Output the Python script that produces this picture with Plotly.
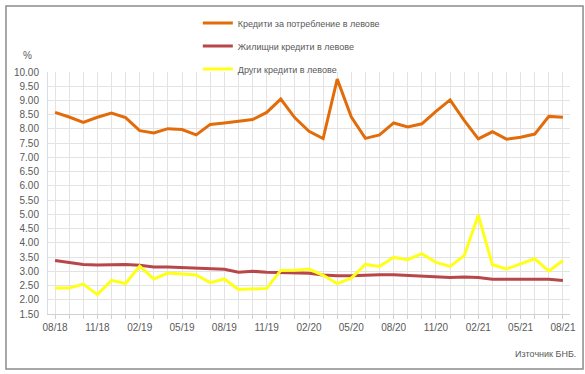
import plotly.graph_objects as go

months = ["08/18","09/18","10/18","11/18","12/18","01/19","02/19","03/19","04/19","05/19","06/19","07/19",
          "08/19","09/19","10/19","11/19","12/19","01/20","02/20","03/20","04/20","05/20","06/20","07/20",
          "08/20","09/20","10/20","11/20","12/20","01/21","02/21","03/21","04/21","05/21","06/21","07/21","08/21"]

consumer = [8.58,8.42,8.23,8.41,8.56,8.40,7.94,7.86,8.01,7.98,7.79,8.16,
            8.21,8.28,8.33,8.58,9.05,8.39,7.92,7.66,9.75,8.42,7.67,7.79,
            8.21,8.07,8.18,8.62,9.02,8.30,7.65,7.90,7.64,7.71,7.82,8.44,8.41]

housing = [3.38,3.31,3.24,3.22,3.22,3.24,3.21,3.15,3.15,3.13,3.10,3.07,
           3.07,2.97,3.00,2.97,2.96,2.94,2.93,2.87,2.84,2.84,2.87,2.88,
           2.88,2.85,2.84,2.80,2.78,2.80,2.78,2.72,2.72,2.72,2.72,2.72,2.68]

other = [2.41,2.41,2.55,2.18,2.68,2.57,3.18,2.73,2.94,2.90,2.87,2.60,
         2.73,2.36,2.38,2.40,3.03,3.04,3.08,2.86,2.57,2.76,3.24,3.17,
         3.49,3.41,3.62,3.31,3.17,3.55,4.97,3.23,3.08,3.27,3.44,3.01,3.38]

tick_labels = [m if i % 3 == 0 else "" for i, m in enumerate(months)]

names = ["Кредити за потребление в левове", "Жилищни кредити в левове", "Други кредити в левове"]
colors = ["#E36C0A", "#B8474A", "#FFFF1A"]

FONT = "Liberation Sans"
GRAY = "#595959"

fig = go.Figure()
for i, (nm, ys, c) in enumerate(zip(names, [consumer, housing, other], colors)):
    fig.add_trace(go.Scatter(x=months, y=ys, mode="lines", name=nm,
                             line=dict(color=c, width=3), legendgroup=str(i)))

fig.update_layout(
    width=585, height=374,
    margin=dict(l=48, r=15, t=72, b=60, autoexpand=False),
    paper_bgcolor="white", plot_bgcolor="white",
    font=dict(family=FONT, size=10, color=GRAY),
    showlegend=True,
    legend=dict(x=0.287, y=1.262, xanchor="left", yanchor="top",
                font=dict(family=FONT, size=9, color=GRAY),
                tracegroupgap=4, bgcolor="rgba(0,0,0,0)"),
    xaxis=dict(type="category", range=[-0.5, 36.5], tickmode="array",
               tickvals=months, ticktext=tick_labels, tickangle=0,
               showgrid=True, gridcolor="#e3e3e3", gridwidth=1,
               showline=True, linecolor="#d0d0d0", ticks="outside", ticklen=4,
               tickcolor="#d0d0d0", tickfont=dict(size=10, color=GRAY)),
    yaxis=dict(range=[1.5, 10], dtick=0.5, tickformat=".2f",
               showgrid=True, gridcolor="#e3e3e3", gridwidth=1,
               showline=True, linecolor="#d5dfec", zeroline=False,
               ticklabelstandoff=6,
               tickfont=dict(size=10, color=GRAY)),
    annotations=[
        dict(text="%", xref="paper", yref="paper", x=-0.04, y=1.07, showarrow=False,
             xanchor="center", yanchor="middle", font=dict(size=10, color=GRAY)),
        dict(text="Източник БНБ.", xref="paper", yref="paper", x=1.015, y=-0.165,
             showarrow=False, xanchor="right", yanchor="middle", font=dict(size=9, color=GRAY)),
    ],
    shapes=[dict(type="rect", xref="paper", yref="paper", x0=-0.0805, x1=1.025, y0=-0.227, y1=1.273,
                 line=dict(color="#8c8c8c", width=1.5), fillcolor="rgba(0,0,0,0)", layer="below")],
)

fig.write_html("out.html", config={"displayModeBar": False},
               post_script="document.body.style.margin='0';document.body.style.overflow='hidden';")
